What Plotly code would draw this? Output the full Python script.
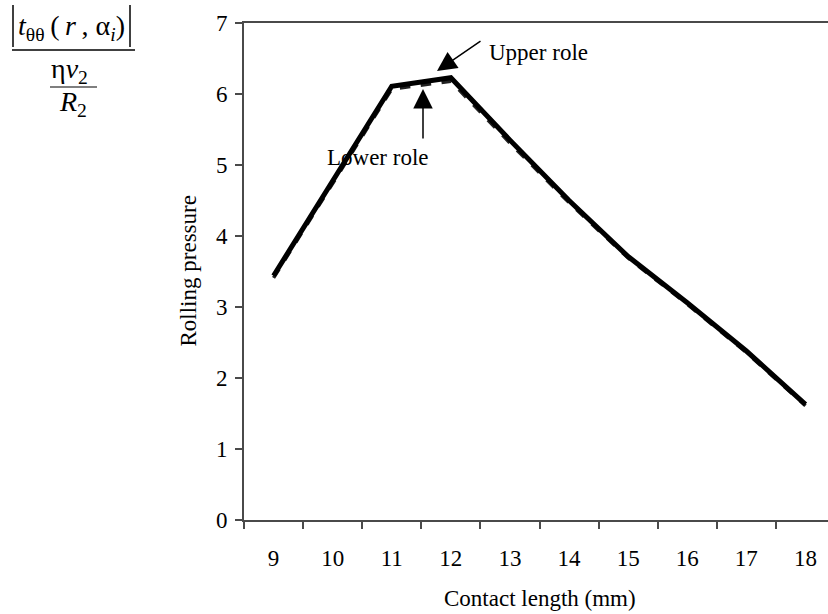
import plotly.graph_objects as go

# Contact length categories (mm) and rolling pressure for both rolls
contact_length = ["9", "10", "11", "12", "13", "14", "15", "16", "17", "18"]
upper_role = [3.44, 4.78, 6.11, 6.23, 5.35, 4.50, 3.71, 3.06, 2.38, 1.63]
lower_role = [3.41, 4.75, 6.07, 6.18, 5.31, 4.47, 3.69, 3.04, 2.36, 1.61]
y_ticks = [0, 1, 2, 3, 4, 5, 6, 7]

W, H = 828, 614
ML, MT, MB, MR = 244, 23, 94, 0
PW, PH = W - ML - MR, H - MT - MB
CAT_W = 59.1  # pixel width of one category band

FONT = "Liberation Serif"
AXIS_COL = "#4a4a4a"
THIN = "\u2009"


def px(x):
    return (x - ML) / PW


def py(y):
    return (H - MB - y) / PH


def txt(size):
    return dict(family=FONT, size=size, color="black")


fig = go.Figure()
fig.add_trace(go.Scatter(
    x=contact_length, y=lower_role, mode="lines", name="Lower role",
    line=dict(color="#222222", width=3.5, dash="dash"),
))
fig.add_trace(go.Scatter(
    x=contact_length, y=upper_role, mode="lines", name="Upper role",
    line=dict(color="black", width=5),
))

annotations = [
    # axis titles
    dict(text="Contact length (mm)", x=px(540), y=py(598), xref="paper", yref="paper",
         showarrow=False, xanchor="center", yanchor="middle", font=txt(23)),
    dict(text="Rolling pressure", x=px(188), y=0.5, xref="paper", yref="paper",
         showarrow=False, textangle=-90, xanchor="center", yanchor="middle", font=txt(23)),
    # callouts
    dict(text="Upper role", x=px(487), y=py(52), xref="paper", yref="paper",
         showarrow=False, xanchor="left", yanchor="middle", font=txt(23)),
    dict(text="", x=px(437), y=py(71), xref="paper", yref="paper",
         ax=45, ay=-31, showarrow=True, arrowhead=2, arrowsize=2.6, arrowwidth=1.5,
         arrowcolor="black"),
    dict(text="Lower role", x=px(378), y=py(157), xref="paper", yref="paper",
         showarrow=False, xanchor="center", yanchor="middle", font=txt(23)),
    dict(text="", x=px(423), y=py(89), xref="paper", yref="paper",
         ax=0, ay=51, showarrow=True, arrowhead=2, arrowsize=2.6, arrowwidth=1.5,
         arrowcolor="black"),
    # formula: |t_θθ(r, α_i)| / (η v_2 / R_2)
    dict(text="<i>t</i><sub>θθ</sub>" + THIN + "(" + THIN + "<i>r</i>" + THIN + ", α<sub><i>i</i></sub>)",
         x=px(71), y=py(27), xref="paper", yref="paper", showarrow=False,
         xanchor="center", yanchor="middle", font=txt(28)),
    dict(text="η<i>v</i><sub>2</sub>", x=px(69), y=py(71), xref="paper", yref="paper",
         showarrow=False, xanchor="center", yanchor="middle", font=txt(28)),
    dict(text="<i>R</i><sub>2</sub>", x=px(73), y=py(103), xref="paper", yref="paper",
         showarrow=False, xanchor="center", yanchor="middle", font=txt(28)),
]

shapes = [
    # absolute-value bars and fraction rules of the formula
    dict(type="line", xref="paper", yref="paper", x0=px(13), x1=px(13), y0=py(5), y1=py(47),
         line=dict(color="black", width=1.5)),
    dict(type="line", xref="paper", yref="paper", x0=px(130), x1=px(130), y0=py(5), y1=py(47),
         line=dict(color="black", width=1.5)),
    dict(type="line", xref="paper", yref="paper", x0=px(12), x1=px(135), y0=py(50), y1=py(50),
         line=dict(color="black", width=1.5)),
    dict(type="line", xref="paper", yref="paper", x0=px(50), x1=px(97), y0=py(87), y1=py(87),
         line=dict(color="black", width=1.2)),
]

fig.update_layout(
    width=W, height=H,
    margin=dict(l=ML, r=MR, t=MT, b=MB),
    paper_bgcolor="white", plot_bgcolor="white",
    font=txt(23),
    showlegend=False,
    annotations=annotations,
    shapes=shapes,
    xaxis=dict(
        type="category", range=[-0.5, -0.5 + PW / CAT_W],
        tickson="boundaries", ticks="outside", ticklen=7, tickwidth=1.5, tickcolor=AXIS_COL,
        showline=True, linecolor=AXIS_COL, linewidth=2, mirror=True,
        showgrid=False, zeroline=False, ticklabelstandoff=16,
        tickfont=txt(23),
    ),
    yaxis=dict(
        range=[0, 7], tickvals=y_ticks, ticks="outside", ticklen=7, tickwidth=1.5,
        tickcolor=AXIS_COL, showline=True, linecolor=AXIS_COL, linewidth=2,
        showgrid=False, zeroline=False, ticklabelstandoff=3,
        tickfont=txt(23),
    ),
)

fig.write_html("out.html")
